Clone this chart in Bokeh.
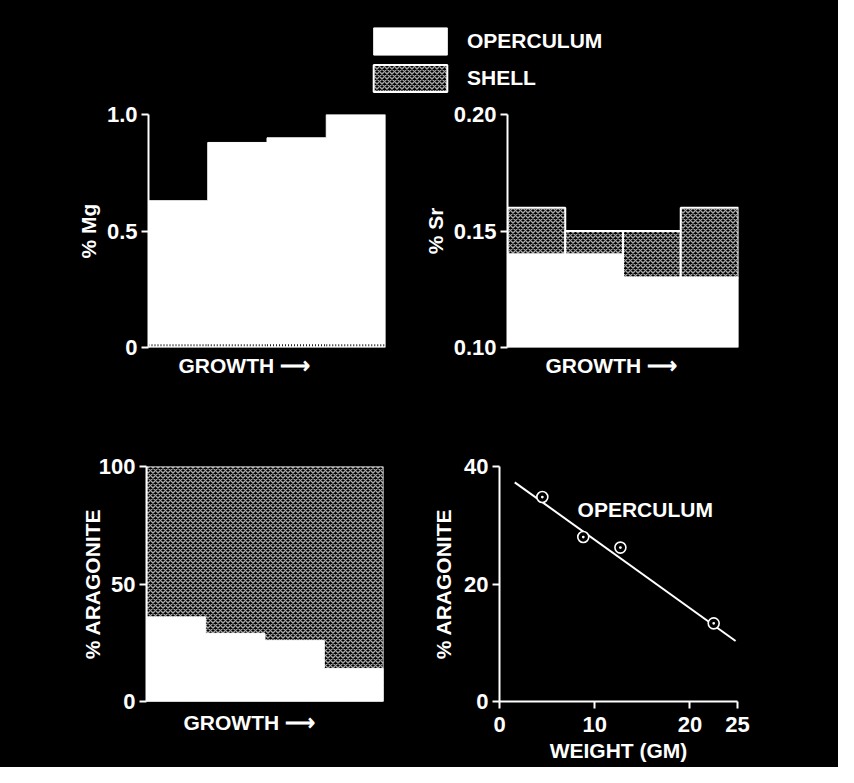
from bokeh.plotting import figure
from bokeh.layouts import column, row
from bokeh.models import Range1d, FixedTicker, Title, Legend, LegendItem, Label
from bokeh.embed import file_html
from bokeh.resources import INLINE

# ---------------- data ----------------
growth_stage = [1, 2, 3, 4]
mg_operculum = [0.63, 0.88, 0.90, 1.00]
mg_shell = [0.01, 0.01, 0.01, 0.01]
sr_operculum = [0.14, 0.14, 0.13, 0.13]
sr_shell = [0.16, 0.15, 0.15, 0.16]
arag_operculum = [36, 29, 26, 14]
arag_shell = [100, 100, 100, 100]
weight_gm = [4.5, 8.8, 12.7, 22.5]
arag_by_weight = [34.8, 28.0, 26.2, 13.3]
fit_weight = [1.6, 24.8]
fit_arag = [37.3, 10.3]

mg_ticks = [0, 0.5, 1.0]
mg_tick_labels = ["0", "0.5", "1.0"]
sr_ticks = [0.10, 0.15, 0.20]
sr_tick_labels = ["0.10", "0.15", "0.20"]
arag_ticks = [0, 50, 100]
arag_tick_labels = ["0", "50", "100"]
arag2_ticks = [0, 20, 40]
arag2_tick_labels = ["0", "20", "40"]
weight_ticks = [0, 10, 20, 25]
weight_tick_labels = ["0", "10", "20", "25"]

FONT = "Liberation Sans"
WHITE = "white"
HATCH = dict(fill_color="black", hatch_pattern="diagonal_cross", hatch_color="#a8a8a8",
             hatch_scale=5, hatch_weight=1.4)

bar_left = [s - 1 for s in growth_stage]
bar_right = growth_stage


def step_outline(tops, base):
    xs, ys = [bar_left[0]], [base]
    for l, r, t in zip(bar_left, bar_right, tops):
        xs += [l, r]
        ys += [t, t]
    xs.append(bar_right[-1])
    ys.append(base)
    return xs, ys


def make_fig(w, h, left, right, top, bottom, xr, yr, x_axis=True):
    p = figure(width=w, height=h, min_border_left=left, min_border_right=right,
               min_border_top=top, min_border_bottom=bottom,
               x_range=xr, y_range=yr,
               x_axis_type="linear" if x_axis else None,
               output_backend="svg", toolbar_location=None,
               background_fill_color="black", border_fill_color="black",
               outline_line_color=None)
    p.grid.visible = False
    for ax in p.axis:
        ax.axis_line_color = WHITE
        ax.axis_line_width = 2
        ax.major_tick_line_color = WHITE
        ax.major_tick_line_width = 2
        ax.major_tick_out = 7
        ax.major_tick_in = 0
        ax.minor_tick_line_color = None
        ax.major_label_text_color = WHITE
        ax.major_label_text_font = FONT
        ax.major_label_text_font_size = "22px"
        ax.major_label_text_font_style = "bold"
        ax.major_label_standoff = 4
        ax.axis_label_text_color = WHITE
        ax.axis_label_text_font = FONT
        ax.axis_label_text_font_size = "21px"
        ax.axis_label_text_font_style = "bold"
    return p


def set_yticks(p, ticks, labels, label, standoff):
    p.yaxis.ticker = FixedTicker(ticks=ticks)
    p.yaxis.major_label_overrides = {t: l for t, l in zip(ticks, labels)}
    p.yaxis.axis_label = label
    p.yaxis.axis_label_standoff = standoff


def growth_title(p, offset, standoff):
    p.add_layout(Title(text="GROWTH \u27f6", align="left", offset=offset, standoff=standoff,
                       text_font=FONT, text_font_size="21px", text_font_style="bold",
                       text_color=WHITE), "below")


# ---------------- legend strip ----------------
nan = float("nan")
pl = figure(width=838, height=100, x_axis_type=None, y_axis_type=None,
            x_range=Range1d(0, 1), y_range=Range1d(0, 1),
            min_border_left=0, min_border_right=0, min_border_top=0, min_border_bottom=0,
            output_backend="svg", toolbar_location=None,
            background_fill_color="black", border_fill_color="black", outline_line_color=None)
r_op = pl.quad(left=[nan], right=[nan], top=[nan], bottom=[nan], fill_color=WHITE, line_color=WHITE)
r_sh = pl.quad(left=[nan], right=[nan], top=[nan], bottom=[nan], line_color=WHITE, line_width=2, **HATCH)
legend = Legend(items=[LegendItem(label="OPERCULUM", renderers=[r_op]),
                       LegendItem(label="SHELL", renderers=[r_sh])],
                location=(364, 5), glyph_width=92, glyph_height=34, label_standoff=11,
                spacing=3, padding=0, margin=0, border_line_color=None,
                background_fill_alpha=0, label_text_color=WHITE, label_text_font=FONT,
                label_text_font_size="21px", label_text_font_style="bold",
                label_text_baseline="middle")
pl.add_layout(legend, "center")

# ---------------- panel 1: Mg ----------------
p1 = make_fig(420, 320, 148, 35, 13, 73, Range1d(0, 4), Range1d(0, 1.0), x_axis=False)
xs, ys = step_outline(mg_operculum, 0)
p1.patch(xs, ys, fill_color=WHITE, line_color=WHITE, line_width=1)
p1.segment(x0=bar_left, x1=bar_right, y0=mg_shell, y1=mg_shell,
           line_color="#222222", line_width=2, line_dash="1 2")
set_yticks(p1, mg_ticks, mg_tick_labels, "% Mg", 4)
growth_title(p1, 30, 8)

# ---------------- panel 2: Sr ----------------
p2 = make_fig(418, 320, 82, 100, 14, 72, Range1d(0, 4), Range1d(0.10, 0.20), x_axis=False)
xs, ys = step_outline(sr_operculum, sr_ticks[0])
p2.patch(xs, ys, fill_color=WHITE, line_color=WHITE, line_width=1)
p2.quad(left=bar_left, right=bar_right, bottom=sr_operculum, top=sr_shell,
        line_color=WHITE, line_width=2, **HATCH)
set_yticks(p2, sr_ticks, sr_tick_labels, "% Sr", 4)
growth_title(p2, 38, 8)

# ---------------- panel 3: aragonite by growth ----------------
p3 = make_fig(420, 347, 146, 37, 45, 66, Range1d(0, 4), Range1d(0, 100), x_axis=False)
xs, ys = step_outline(arag_shell, 0)
p3.patch(xs, ys, line_color=WHITE, line_width=1.5, **HATCH)
xs, ys = step_outline(arag_operculum, 0)
p3.patch(xs, ys, fill_color=WHITE, line_color=WHITE, line_width=1)
set_yticks(p3, arag_ticks, arag_tick_labels, "% ARAGONITE", -8)
growth_title(p3, 37, 14)

# ---------------- panel 4: aragonite vs weight ----------------
p4 = make_fig(418, 347, 79, 101, 46, 60, Range1d(0, 25), Range1d(0, 40), x_axis=True)
p4.line(fit_weight, fit_arag, line_color=WHITE, line_width=2)
p4.scatter(weight_gm, arag_by_weight, marker="circle_dot", size=11,
           line_color=WHITE, line_width=1.6, fill_color="black")
set_yticks(p4, arag2_ticks, arag2_tick_labels, "% ARAGONITE", 6)
p4.xaxis.ticker = FixedTicker(ticks=weight_ticks)
p4.xaxis.major_label_overrides = {t: l for t, l in zip(weight_ticks, weight_tick_labels)}
p4.xaxis.major_label_standoff = 8
p4.xaxis.axis_label = "WEIGHT (GM)"
p4.xaxis.axis_label_standoff = 4
p4.add_layout(Label(x=8.2, y=32.7, text="OPERCULUM", text_baseline="middle",
                    text_font=FONT, text_font_size="21px", text_font_style="bold",
                    text_color=WHITE))

layout = column(pl, row(p1, p2, styles={"background-color": "black"}),
                row(p3, p4, styles={"background-color": "black"}),
                styles={"background-color": "black"})
open("out.html", "w").write(file_html(layout, INLINE))
